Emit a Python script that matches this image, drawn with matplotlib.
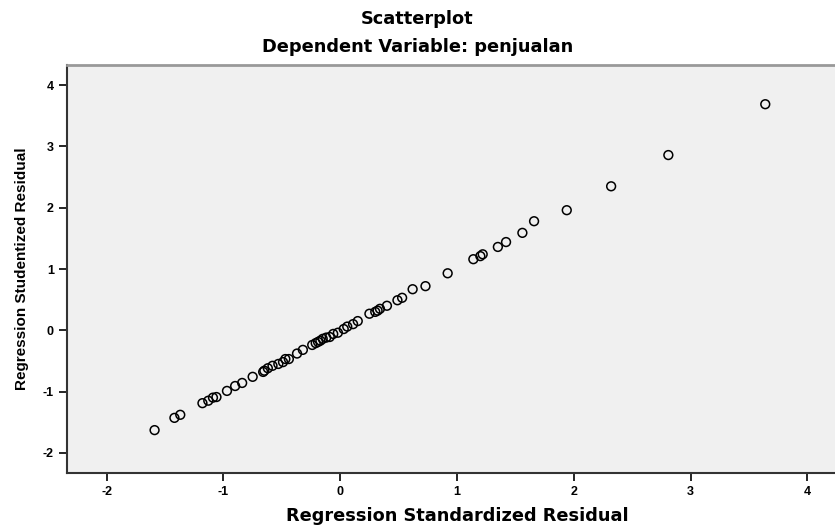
import matplotlib.pyplot as plt

plt.rcParams['font.family'] = ['Liberation Sans', 'DejaVu Sans']
plt.rcParams['axes.unicode_minus'] = False

# standardized vs studentized residuals
std_resid = [3.64, 2.81, 2.32, 1.94, 1.66, 1.56, 1.42, 1.35, 1.22, 1.20, 1.14,
             0.92, 0.73, 0.62, 0.53, 0.49, 0.40, 0.34, 0.30, 0.25, 0.15, 0.11,
             0.03, -0.02, -0.09, -0.15, -0.19, -0.24, -0.32, -0.37, -0.44, -0.49,
             -0.53, -0.58, -0.65, -0.66, -0.75, -0.84, -0.90, -0.97, -1.06, -1.09,
             -1.13, -1.18, -1.37, -1.42, -1.59,
             -0.12, -0.17, -0.21, 0.06, -0.06, 0.32, -0.62, -0.47]
stu_resid = [3.69, 2.86, 2.35, 1.96, 1.78, 1.59, 1.44, 1.36, 1.24, 1.21, 1.16,
             0.93, 0.72, 0.67, 0.53, 0.49, 0.40, 0.35, 0.30, 0.27, 0.15, 0.10,
             0.02, -0.04, -0.11, -0.14, -0.19, -0.24, -0.32, -0.38, -0.47, -0.52,
             -0.55, -0.58, -0.66, -0.68, -0.76, -0.86, -0.91, -0.99, -1.09, -1.10,
             -1.15, -1.19, -1.38, -1.43, -1.63,
             -0.12, -0.17, -0.21, 0.06, -0.06, 0.32, -0.62, -0.47]

ticks = [-2, -1, 0, 1, 2, 3, 4]

fig = plt.figure(figsize=(8.35, 5.25), dpi=100)
# the plot frame runs a little past the right edge of the image
ax = fig.add_axes([67 / 835, 1 - 473 / 525, (847 - 67) / 835, (473 - 65) / 525])
ax.set_facecolor('#f0f0f0')

ax.scatter(std_resid, stu_resid, s=40, facecolors='none', edgecolors='black', linewidths=1.1)

ax.set_xlim(-2.34, 4.34)
ax.set_ylim(-2.33, 4.33)
ax.set_xticks(ticks)
ax.set_yticks(ticks)
ax.tick_params(direction='out', length=6, width=1.2, labelsize=9)
for lab in ax.get_xticklabels() + ax.get_yticklabels():
    lab.set_fontweight('bold')

ax.spines['left'].set_linewidth(1.5)
ax.spines['bottom'].set_linewidth(1.5)
ax.spines['left'].set_color('#333333')
ax.spines['bottom'].set_color('#333333')
ax.spines['top'].set_color('#999999')
ax.spines['top'].set_linewidth(2)
ax.spines['right'].set_visible(False)

# the horizontal texts in the reference look stretched, a wider face fits better
ax.set_xlabel('Regression Standardized Residual', family='DejaVu Sans', fontsize=12.8,
              fontweight='bold', labelpad=6)
ax.set_ylabel('Regression Studentized Residual', fontsize=11, fontweight='bold', labelpad=10)

fig.text(0.5, 1 - 19 / 525, 'Scatterplot', family='DejaVu Sans', ha='center', va='center',
         fontsize=12.8, fontweight='bold')
fig.text(0.5, 1 - 47 / 525, 'Dependent Variable: penjualan', family='DejaVu Sans',
         ha='center', va='center', fontsize=12.8, fontweight='bold')

fig.savefig('out.png', dpi=100)
